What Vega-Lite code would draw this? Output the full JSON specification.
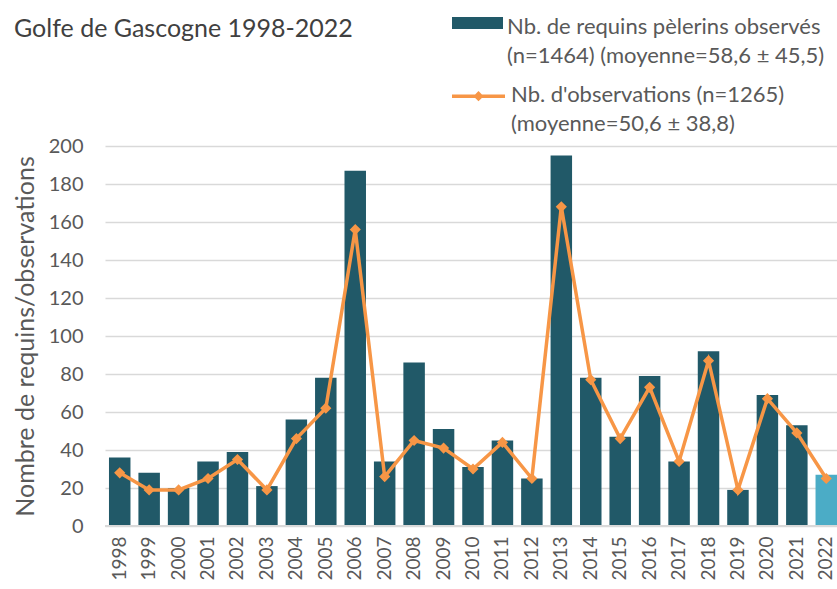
{
  "$schema": "https://vega.github.io/schema/vega-lite/v6.json",
  "autosize": {"type": "none"},
  "padding": {"left": 105, "top": 146, "right": 0, "bottom": 63},
  "width": 736,
  "height": 380,
  "config": {
    "font": "Lato",
    "view": {"stroke": null},
    "background": "white",
    "style": {"guide-label": {"lineHeight": 29}},
    "axisY": {"labelOverlap": false}
  },
  "title": {
    "text": "Golfe de Gascogne 1998-2022",
    "anchor": "start",
    "frame": "group",
    "dx": -91,
    "offset": 0,
    "dy": 50,
    "fontSize": 25,
    "fontWeight": "normal",
    "color": "#404040",
    "font": "Lato"
  },
  "data": {
    "values": [
      {"year": "1998", "requins": 36, "observations": 28},
      {"year": "1999", "requins": 28, "observations": 19},
      {"year": "2000", "requins": 20, "observations": 19},
      {"year": "2001", "requins": 34, "observations": 25},
      {"year": "2002", "requins": 39, "observations": 35},
      {"year": "2003", "requins": 21, "observations": 19},
      {"year": "2004", "requins": 56, "observations": 46},
      {"year": "2005", "requins": 78, "observations": 62},
      {"year": "2006", "requins": 187, "observations": 156},
      {"year": "2007", "requins": 34, "observations": 26},
      {"year": "2008", "requins": 86, "observations": 45},
      {"year": "2009", "requins": 51, "observations": 41},
      {"year": "2010", "requins": 31, "observations": 30},
      {"year": "2011", "requins": 45, "observations": 44},
      {"year": "2012", "requins": 25, "observations": 25},
      {"year": "2013", "requins": 195, "observations": 168},
      {"year": "2014", "requins": 78, "observations": 77},
      {"year": "2015", "requins": 47, "observations": 46},
      {"year": "2016", "requins": 79, "observations": 73},
      {"year": "2017", "requins": 34, "observations": 34},
      {"year": "2018", "requins": 92, "observations": 87},
      {"year": "2019", "requins": 19, "observations": 19},
      {"year": "2020", "requins": 69, "observations": 67},
      {"year": "2021", "requins": 53, "observations": 49},
      {"year": "2022", "requins": 27, "observations": 25}
    ]
  },
  "encoding": {
    "x": {
      "field": "year",
      "type": "ordinal",
      "scale": {"paddingInner": 0.27, "paddingOuter": 0.135},
      "axis": {
        "title": null,
        "labelAngle": -90,
        "labelFontSize": 19,
        "labelColor": "#595959",
        "labelPadding": 10,
        "ticks": false,
        "domain": false,
        "labelFont": "Lato"
      }
    }
  },
  "layer": [
    {
      "mark": {"type": "bar"},
      "encoding": {
        "y": {
          "field": "requins",
          "type": "quantitative",
          "scale": {"domain": [0, 200]},
          "axis": {
            "title": "Nombre de requins/observations",
            "titleFontSize": 25,
            "titleFontWeight": "normal",
            "titleColor": "#595959",
            "titlePadding": 10,
            "labelFontSize": 20,
            "labelColor": "#595959",
            "labelPadding": 22,
            "labelOverlap": false,
            "ticks": false,
            "domain": false,
            "values": [0, 20, 40, 60, 80, 100, 120, 140, 160, 180, 200],
            "gridColor": "#D9D9D9",
            "gridWidth": 1.3
          }
        },
        "fill": {
          "condition": {"test": "datum.year == '2022'", "value": "#4BACC6"},
          "datum": "Nb. de requins pèlerins observés|(n=1464) (moyenne=58,6 ± 45,5)",
          "scale": {"range": ["#215968"]},
          "legend": {
            "orient": "none",
            "legendX": 347,
            "legendY": -154.5,
            "title": null,
            "symbolType": "M-1,0H1V0.47H-1Z",
            "symbolSize": 2601,
            "symbolStrokeWidth": 0,
            "labelExpr": "split(datum.label, '|')",
            "labelFontSize": 22,
            "labelColor": "#595959",
            "labelBaseline": "top",
            "labelLimit": 400,
            "labelOffset": 4
          }
        }
      }
    },
    {
      "mark": {"type": "rule", "color": "#D9D9D9", "strokeWidth": 2},
      "encoding": {
        "y": {
          "datum": 0,
          "type": "quantitative",
          "axis": {
            "title": "Nombre de requins/observations",
            "titleFontSize": 25,
            "titleFontWeight": "normal",
            "titleColor": "#595959",
            "titlePadding": 10,
            "labelFontSize": 20,
            "labelColor": "#595959",
            "labelPadding": 22,
            "labelOverlap": false,
            "ticks": false,
            "domain": false,
            "values": [0, 20, 40, 60, 80, 100, 120, 140, 160, 180, 200],
            "gridColor": "#D9D9D9",
            "gridWidth": 1.3
          }
        },
        "x": null
      }
    },
    {
      "mark": {"type": "line", "strokeWidth": 3.5, "point": {"shape": "diamond", "size": 70, "filled": true, "color": "#F79646"}},
      "encoding": {
        "y": {
          "field": "observations",
          "type": "quantitative",
          "axis": {
            "title": "Nombre de requins/observations",
            "titleFontSize": 25,
            "titleFontWeight": "normal",
            "titleColor": "#595959",
            "titlePadding": 10,
            "labelFontSize": 20,
            "labelColor": "#595959",
            "labelPadding": 22,
            "labelOverlap": false,
            "ticks": false,
            "domain": false,
            "values": [0, 20, 40, 60, 80, 100, 120, 140, 160, 180, 200],
            "gridColor": "#D9D9D9",
            "gridWidth": 1.3
          }
        },
        "stroke": {
          "datum": "Nb. d'observations (n=1265)|(moyenne=50,6 ± 38,8)",
          "scale": {"range": ["#F79646"]},
          "legend": {
            "orient": "none",
            "legendX": 345,
            "legendY": -89.5,
            "title": null,
            "symbolType": "M-1,0.42H1M-0.1,0.42L0,0.32L0.1,0.42L0,0.52Z",
            "symbolSize": 2809,
            "symbolStrokeWidth": 3.5,
            "labelExpr": "split(datum.label, '|')",
            "labelFontSize": 22,
            "labelColor": "#595959",
            "labelBaseline": "top",
            "labelLimit": 400,
            "labelOffset": 4
          }
        }
      }
    }
  ],
  "resolve": {"scale": {"fill": "independent", "stroke": "independent"}}
}
